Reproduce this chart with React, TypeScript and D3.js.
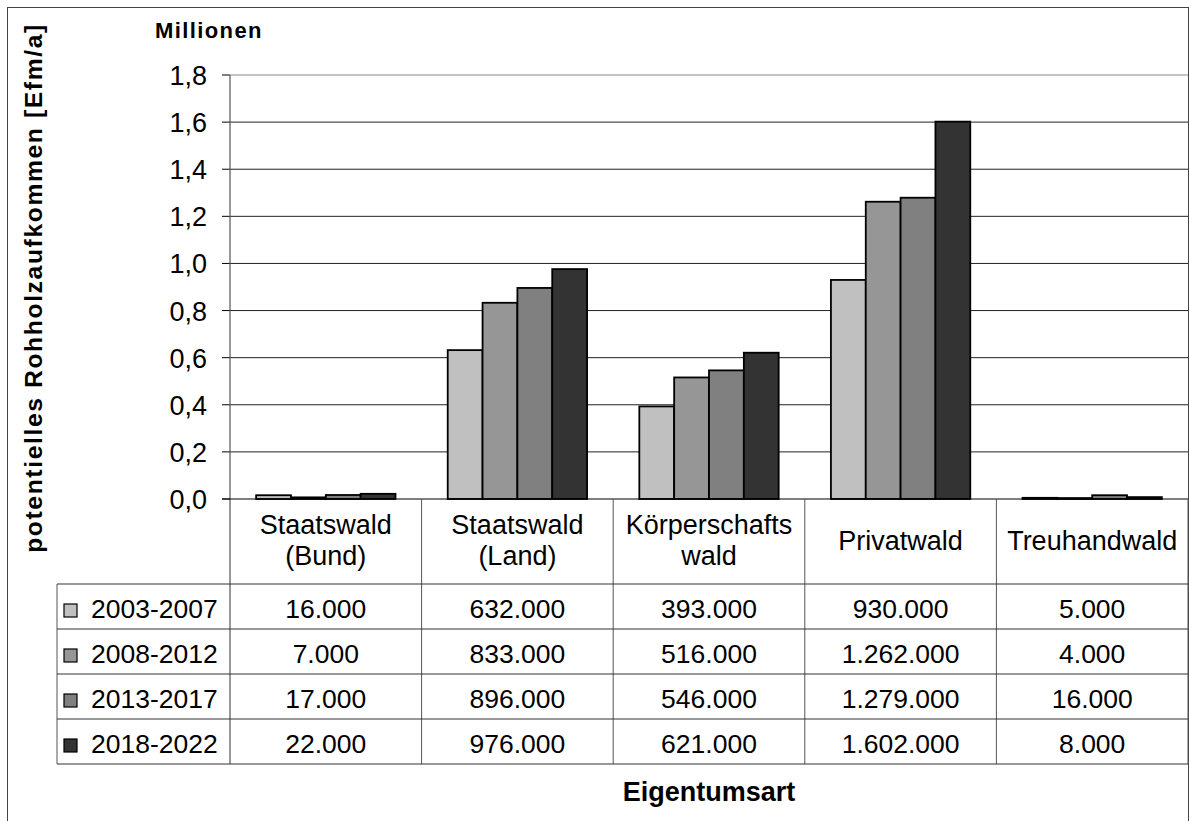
import * as d3 from "d3";

// Eigentumsart categories (table header lines)
const categories = ["Staatswald (Bund)", "Staatswald (Land)", "Körperschaftswald", "Privatwald", "Treuhandwald"];
const categoryLabels = [["Staatswald", "(Bund)"], ["Staatswald", "(Land)"], ["Körperschafts", "wald"], ["Privatwald"], ["Treuhandwald"]];

const periods = ["2003-2007", "2008-2012", "2013-2017", "2018-2022"];
const periodColors = ["#c0c0c0", "#969696", "#808080", "#333333"];

// potentielles Rohholzaufkommen [Efm/a], per period, one value per category
const values2003 = [16000, 632000, 393000, 930000, 5000];
const values2008 = [7000, 833000, 516000, 1262000, 4000];
const values2013 = [17000, 896000, 546000, 1279000, 16000];
const values2018 = [22000, 976000, 621000, 1602000, 8000];
const seriesValues = [values2003, values2008, values2013, values2018];

const yTicks = [0, 0.2, 0.4, 0.6, 0.8, 1.0, 1.2, 1.4, 1.6, 1.8];

const W = 1189;
const H = 821;
const font = "'Liberation Sans', Arial, sans-serif";

const de = d3.formatLocale({decimal: ",", thousands: ".", grouping: [3], currency: ["", " €"]});
const fmtTable = de.format(",d");
const fmtTick = de.format(".1f");

export default function App() {
    const left = 230;
    const right = 1188;
    const top = 75;
    const zero = 499;
    const headerBottom = 584;
    const tableBottom = 764;
    const tableLeft = 57;

    const x = d3.scaleBand<string>().domain(categories).range([left, right]).padding(0);
    const cw = x.bandwidth();
    const barW = cw / (periods.length + 1.5); // Excel gap width 150%
    const xi = d3.scaleBand<string>().domain(periods).range([barW * 0.75, cw - barW * 0.75]);

    const y = d3.scaleLinear().domain([0, 1.8]).range([zero, top]);
    const rows = d3.scaleBand<string>().domain(periods).range([headerBottom, tableBottom]);

    return (
        <svg width={W} height={H} style={{position: "absolute", left: 0, top: 0, background: "#fff"}}
             fontFamily={font}>
            <rect x={7.5} y={7.5} width={1181} height={840} fill="#fff" stroke="#444" strokeWidth={1}/>

            {/* gridlines + ticks */}
            {yTicks.map(t => (
                <g key={t}>
                    {t > 0 && <line x1={left} x2={right} y1={y(t)} y2={y(t)} stroke={t === 1.8 ? "#888" : "#222"}
                                    strokeWidth={1}/>}
                    <line x1={left - 8} x2={left} y1={y(t)} y2={y(t)} stroke="#000"/>
                    <text x={207} y={y(t) + 10} textAnchor="end" fontSize={27}>{fmtTick(t)}</text>
                </g>
            ))}

            {/* bars */}
            {categories.map((c, ci) => (
                <g key={c} transform={`translate(${x(c)},0)`}>
                    {periods.map((p, pi) => {
                        const v = seriesValues[pi][ci] / 1e6;
                        return <rect key={p} x={xi(p)} width={xi.bandwidth()} y={y(v)} height={zero - y(v)}
                                     fill={periodColors[pi]} stroke="#000" strokeWidth={1.8}/>;
                    })}
                </g>
            ))}

            {/* axes */}
            <line x1={left} x2={left} y1={top} y2={tableBottom} stroke="#555" strokeWidth={1.2}/>
            <line x1={left - 8} x2={right} y1={zero} y2={zero} stroke="#000" strokeWidth={1.2}/>

            {/* data table */}
            {categories.map(c => (
                <line key={c} x1={(x(c) as number) + cw} x2={(x(c) as number) + cw} y1={zero} y2={tableBottom}
                      stroke="#555"/>
            ))}
            <line x1={tableLeft} x2={tableLeft} y1={headerBottom} y2={tableBottom} stroke="#555"/>
            {[headerBottom, ...periods.map(p => (rows(p) as number) + rows.bandwidth())].map((ly, i) => (
                <line key={i} x1={tableLeft} x2={right} y1={ly} y2={ly} stroke="#333"/>
            ))}

            {categories.map((c, ci) => {
                const lines = categoryLabels[ci];
                const cx = (x(c) as number) + cw / 2;
                const mid = (zero + headerBottom) / 2;
                const lh = 31;
                const y0 = mid + 8 - (lines.length - 1) * lh / 2;
                return (
                    <text key={c} textAnchor="middle" fontSize={27}>
                        {lines.map((l, li) => <tspan key={li} x={cx} y={y0 + li * lh}>{l}</tspan>)}
                    </text>
                );
            })}

            {periods.map((p, pi) => {
                const ry = rows(p) as number;
                return (
                    <g key={p}>
                        <rect x={64} y={ry + 20} width={13} height={13} fill={periodColors[pi]} stroke="#000"
                              strokeWidth={1.2}/>
                        <text x={91} y={ry + 34} fontSize={26.5}>{p}</text>
                        {categories.map((c, ci) => (
                            <text key={c} x={(x(c) as number) + cw / 2} y={ry + 34} textAnchor="middle"
                                  fontSize={26.5}>{fmtTable(seriesValues[pi][ci])}</text>
                        ))}
                    </g>
                );
            })}

            {/* titles */}
            <text x={155} y={38} fontSize={22} fontWeight="bold" letterSpacing={1.4}>Millionen</text>
            <text transform="translate(41.5,288) rotate(-90)" textAnchor="middle" fontSize={24.7}
                  fontWeight="bold" letterSpacing={1.6}>potentielles Rohholzaufkommen [Efm/a]</text>
            <text x={(left + right) / 2} y={801} textAnchor="middle" fontSize={27}
                  fontWeight="bold">Eigentumsart</text>
        </svg>
    );
}
